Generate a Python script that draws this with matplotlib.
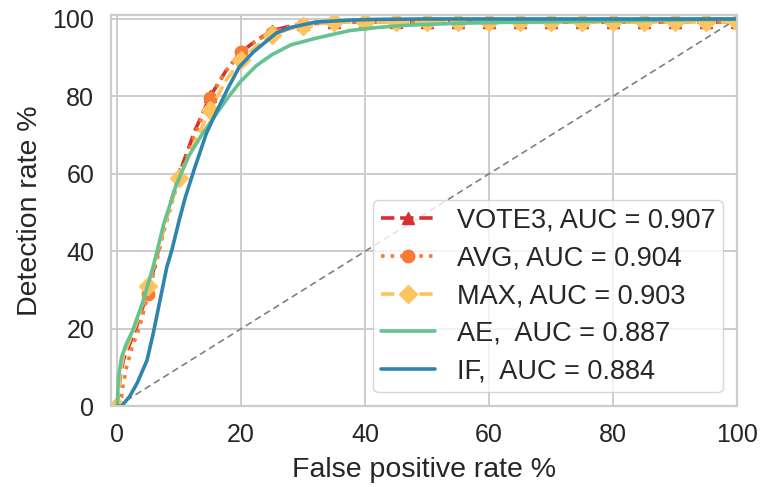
import numpy as np
import matplotlib
matplotlib.use("Agg")
import matplotlib.pyplot as plt
import seaborn as sns

sns.set_theme(style="whitegrid")
plt.rcParams['font.family'] = ['Liberation Sans', 'DejaVu Sans']

# ---- data ----
vote3_x = [0, 0.5, 1, 2, 3, 4, 5, 6, 7.5, 10, 12.5, 15, 17.5, 20, 22.5, 25, 27.5, 30, 35,
           40, 45, 50, 55, 60, 65, 70, 75, 80, 85, 90, 95, 100]
vote3_y = [0, 8, 12, 16, 20, 25, 30, 36, 46, 60, 71, 80, 86.5, 91.5, 94.5, 97, 98, 98.7, 99.2,
           99.2, 99.2, 99.2, 99.2, 99.2, 99.2, 99.2, 99.2, 99.2, 99.2, 99.2, 99.2, 99.2]

avg_x = [0, 0.7, 1, 1.5, 2.4, 3.6, 5, 6, 7.5, 10, 12.5, 15, 17.5, 20, 22.5, 25, 27.5, 30, 35,
         40, 45, 50, 55, 60, 65, 70, 75, 80, 85, 90, 95, 100]
avg_y = [0, 2.3, 5.9, 10, 15.2, 20.4, 29, 35, 45, 59, 70, 79.5, 86.5, 91.5, 94.5, 96.5, 97.8, 98.5, 99.2,
         99.2, 99.2, 99.2, 99.2, 99.2, 99.2, 99.2, 99.2, 99.2, 99.2, 99.2, 99.2, 99.2]

max_x = [0, 0.5, 1, 2, 3, 4, 5, 6, 7.5, 10, 12.5, 15, 17.5, 20, 22.5, 25, 27.5, 30, 35,
         40, 45, 50, 55, 60, 65, 70, 75, 80, 85, 90, 95, 100]
max_y = [0, 9, 13, 17, 21, 26, 31, 37, 46, 59, 68, 76.5, 84, 89.5, 93, 95.8, 97.3, 98.3, 99.2,
         99.2, 99.2, 99.2, 99.2, 99.2, 99.2, 99.2, 99.2, 99.2, 99.2, 99.2, 99.2, 99.2]

ae_x = [0, 0.2, 0.7, 1.5, 2.5, 4.2, 5.8, 7.5, 9.5, 11.5, 13.8, 16, 18, 20, 22.5, 25, 28, 32,
        37.5, 42, 47, 55, 62, 80, 100]
ae_y = [0, 7.5, 12.6, 16.2, 19.5, 27.3, 36, 47, 57, 64.5, 70.5, 75.5, 80, 84, 88, 90.8, 93.3, 95,
        97, 97.8, 98.4, 98.9, 99.1, 99.5, 100]

if_x = [0, 0.7, 2, 3.2, 4.8, 5.8, 6.9, 8, 8.8, 10, 11, 12.5, 14.4, 16, 18, 19.7, 22, 25.7, 28, 32,
        37.5, 42, 50, 60, 80, 100]
if_y = [0, 0, 2.5, 5.9, 11.8, 18.7, 27.3, 35.9, 40.2, 48, 54, 61.5, 70.5, 76, 82.5, 87.6, 91.5, 96.4, 97.8, 99.2,
        99.7, 99.9, 100, 100, 100, 100]

diag = [0, 100]

labels = ["VOTE3, AUC = 0.907", "AVG, AUC = 0.904", "MAX, AUC = 0.903",
          "AE,  AUC = 0.887", "IF,  AUC = 0.884"]
colors = ["#d7302f", "#f67b35", "#fdc35e", "#66c28f", "#2f85ac"]

xticks = [0, 20, 40, 60, 80, 100]
yticks = [0, 20, 40, 60, 80, 100]

# ---- figure ----
fig = plt.figure(figsize=(7.62, 4.87), dpi=100)
ax = fig.add_axes([0.1457, 0.166, 0.8213, 0.803])

def mask5(xs):
    return [i for i, v in enumerate(xs) if abs(v / 5 - round(v / 5)) < 1e-9]

ax.plot(diag, diag, linestyle=(0, (4, 2.5)), color="#808080", lw=1.2, zorder=1)
ax.plot(vote3_x, vote3_y, color=colors[0], lw=2.6, linestyle="--", marker="^", ms=9,
        markevery=mask5(vote3_x), label=labels[0], zorder=2)
ax.plot(avg_x, avg_y, color=colors[1], lw=2.6, linestyle=":", marker="o", ms=9,
        markevery=mask5(avg_x), label=labels[1], zorder=2)
ax.plot(max_x, max_y, color=colors[2], lw=2.6, linestyle="--", marker="D", ms=9,
        markevery=mask5(max_x), label=labels[2], zorder=2)
ax.plot(ae_x, ae_y, color=colors[3], lw=2.6, label=labels[3], zorder=2)
ax.plot(if_x, if_y, color=colors[4], lw=2.6, label=labels[4], zorder=2)

ax.set_xlim(-1, 100)
ax.set_ylim(0, 101)
ax.set_xticks(xticks)
ax.set_yticks(yticks)
ax.tick_params(labelsize=18, pad=6)
ax.set_xlabel("False positive rate %", fontsize=20.5, labelpad=7)
ax.set_ylabel("Detection rate %", fontsize=20.5, labelpad=7)
for s in ax.spines.values():
    s.set_color("#cccccc")
    s.set_linewidth(1.6)
ax.grid(color="#cccccc", lw=1.4)

leg = ax.legend(loc="lower right",
                fontsize=19.5, frameon=True, handlelength=2.0, borderaxespad=0.52,
                labelspacing=0.43, handletextpad=0.8, borderpad=0.28)
leg.get_frame().set_edgecolor("#cccccc")

fig.savefig("out.png", dpi=100)
